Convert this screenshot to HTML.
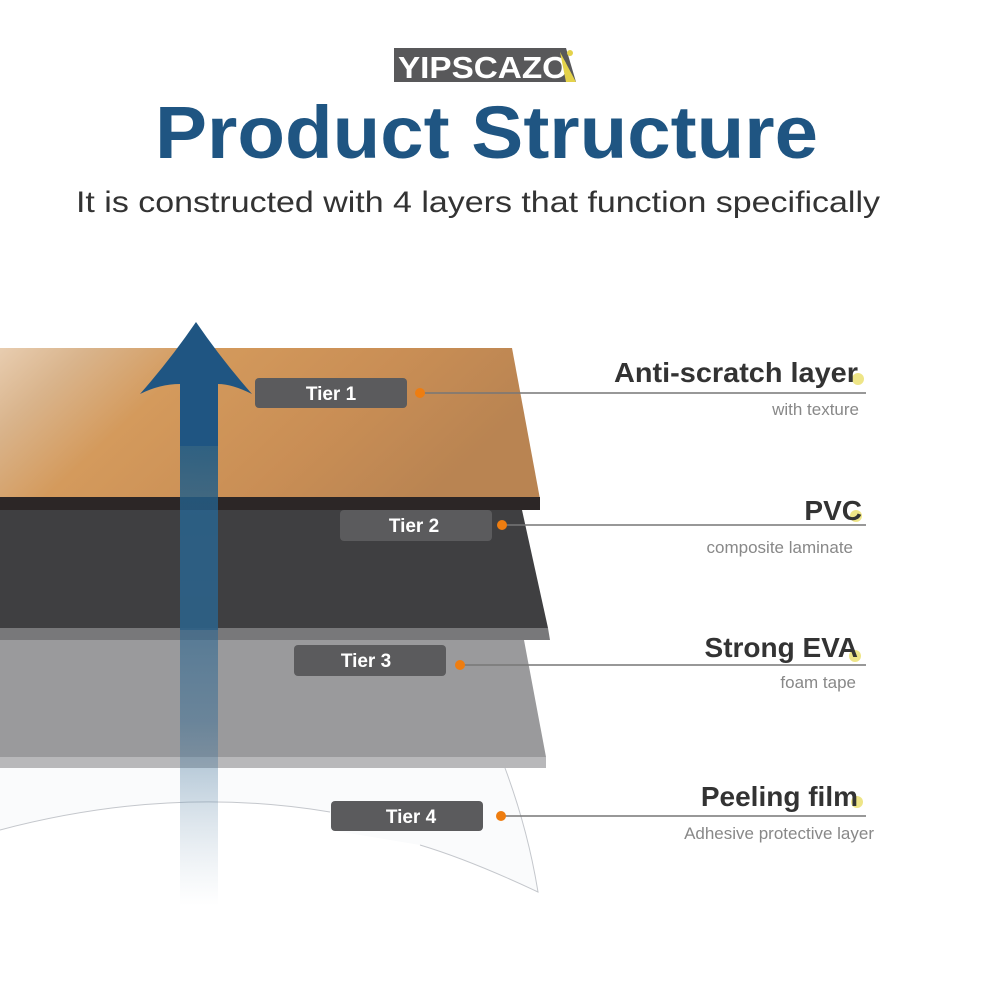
<!DOCTYPE html>
<html><head><meta charset="utf-8"><style>html,body{margin:0;padding:0;background:#fff}svg{display:block}</style></head>
<body>
<svg width="1000" height="1000" viewBox="0 0 1000 1000" xmlns="http://www.w3.org/2000/svg" font-family="Liberation Sans, sans-serif">
<defs>
<linearGradient id="wood" x1="0" y1="0" x2="1" y2="0.3">
<stop offset="0" stop-color="#e8cdb0"/><stop offset="0.15" stop-color="#d9b48c"/><stop offset="0.35" stop-color="#d49a5c"/><stop offset="0.7" stop-color="#c98e55"/><stop offset="1" stop-color="#b98452"/>
</linearGradient>
<linearGradient id="shaft" x1="0" y1="0" x2="0" y2="1">
<stop offset="0" stop-color="#1e5b86" stop-opacity="0.9"/><stop offset="0.6" stop-color="#3a6f97" stop-opacity="0.5"/><stop offset="1" stop-color="#8fa9c0" stop-opacity="0"/>
</linearGradient>
</defs>
<!-- logo -->
<polygon points="394,48 566,48 576,82 394,82" fill="#58585a"/>
<text x="398" y="78" font-size="31" font-weight="bold" fill="#fff" textLength="170" lengthAdjust="spacingAndGlyphs">YIPSCAZO</text>
<polygon points="560,52 576,82 566,82" fill="#e4d24a"/>
<circle cx="570" cy="53" r="3" fill="#e4d24a"/>
<!-- title -->
<text x="155" y="158" font-size="74" font-weight="bold" fill="#1f5582" textLength="663" lengthAdjust="spacingAndGlyphs">Product Structure</text>
<text x="76" y="212" font-size="30" fill="#333" textLength="804" lengthAdjust="spacingAndGlyphs">It is constructed with 4 layers that function specifically</text>
<!-- tier 4 film -->
<path d="M0,830 Q170,785 330,812 L330,830 L420,845 Q470,860 538,892 Q528,830 505,768 L0,768 Z" fill="#fafbfc"/>
<g fill="none" stroke="#c4c7cc" stroke-width="1">
<path d="M0,830 Q170,785 330,812"/>
<path d="M505,768 Q528,830 538,892 Q470,860 420,845"/>
</g>
<!-- tier 3 -->
<polygon points="0,640 524,640 546,757 0,757" fill="#9a9a9c"/>
<polygon points="0,757 546,757 546,768 0,768" fill="#b8b8ba"/>
<!-- tier 2 -->
<polygon points="0,510 522,510 548,628 0,628" fill="#3f3f41"/>
<polygon points="0,628 548,628 550,640 0,640" fill="#78787a"/>
<!-- tier 1 -->
<polygon points="0,348 512,348 540,499 0,499" fill="url(#wood)"/>
<polygon points="0,497 540,497 540,510 0,510" fill="#2c2626"/>
<!-- faint shaft -->
<rect x="180" y="446" width="38" height="460" fill="url(#shaft)"/>
<rect x="180" y="510" width="38" height="120" fill="#2d5f85" opacity="0.8"/>
<!-- arrow -->
<path d="M196,322 Q222,360 252,394 Q232,384 218,384 L218,446 L180,446 L180,384 Q160,384 140,394 Q170,360 196,322 Z" fill="#1f5582"/>
<!-- tier labels -->
<g font-size="19" font-weight="bold" fill="#fff" text-anchor="middle">
<rect x="255" y="378" width="152" height="30" rx="4" fill="#5b5b5d"/><text x="331" y="400">Tier 1</text>
<rect x="340" y="510" width="152" height="31" rx="4" fill="#5b5b5d"/><text x="414" y="532">Tier 2</text>
<rect x="294" y="645" width="152" height="31" rx="4" fill="#5b5b5d"/><text x="366" y="667">Tier 3</text>
<rect x="331" y="801" width="152" height="30" rx="4" fill="#5b5b5d"/><text x="411" y="823">Tier 4</text>
</g>
<!-- connectors -->
<g stroke="#777" stroke-width="1.5">
<line x1="420" y1="393" x2="866" y2="393"/>
<line x1="502" y1="525" x2="866" y2="525"/>
<line x1="460" y1="665" x2="866" y2="665"/>
<line x1="501" y1="816" x2="866" y2="816"/>
</g>
<g fill="#ee7d10">
<circle cx="420" cy="393" r="5"/><circle cx="502" cy="525" r="5"/><circle cx="460" cy="665" r="5"/><circle cx="501" cy="816" r="5"/>
</g>
<g fill="#ece27a" opacity="0.9">
<circle cx="858" cy="379" r="6"/><circle cx="856" cy="516" r="6"/><circle cx="855" cy="656" r="6"/><circle cx="857" cy="802" r="6"/>
</g>
<!-- right text -->
<g text-anchor="end" fill="#333" font-weight="bold" font-size="28">
<text x="858" y="382" textLength="244" lengthAdjust="spacingAndGlyphs">Anti-scratch layer</text>
<text x="862" y="520">PVC</text>
<text x="858" y="657">Strong EVA</text>
<text x="858" y="806">Peeling film</text>
</g>
<g text-anchor="end" fill="#888" font-size="17">
<text x="859" y="415">with texture</text>
<text x="853" y="553">composite laminate</text>
<text x="856" y="688">foam tape</text>
<text x="874" y="839">Adhesive protective layer</text>
</g>
</svg>
</body></html>
